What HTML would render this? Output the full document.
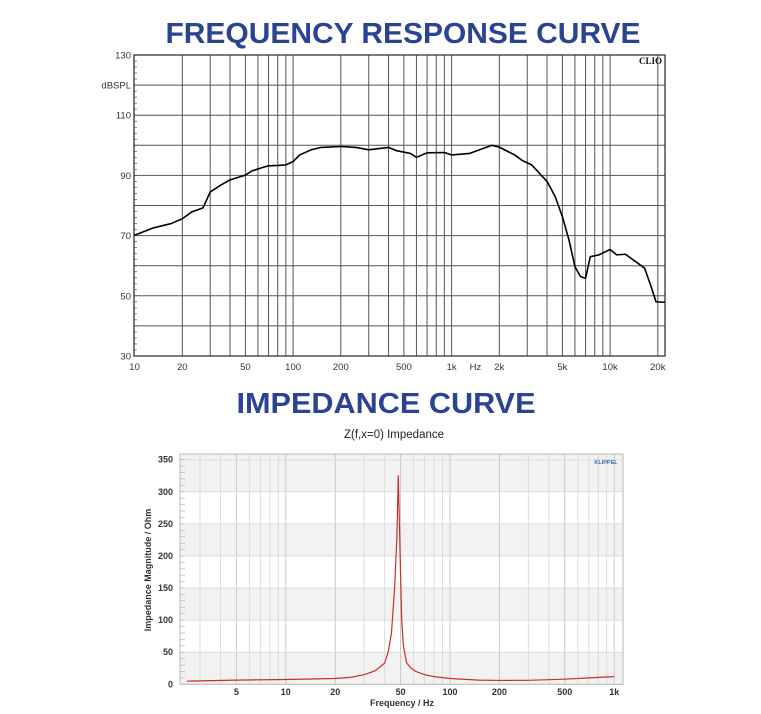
<!DOCTYPE html>
<html><head><meta charset="utf-8"><style>
body{margin:0;background:#fff;width:761px;height:714px;overflow:hidden}
svg{display:block}
.t{font-family:"Liberation Sans",sans-serif;font-weight:bold;fill:#2a4393}
.l{font-family:"Liberation Sans",sans-serif;font-size:9.5px;fill:#333}
.b{font-family:"Liberation Sans",sans-serif;font-size:9px;font-weight:bold;fill:#333}
</style></head><body>
<svg id="s" width="761" height="714" xmlns="http://www.w3.org/2000/svg">
<text class="t" x="403" y="43" font-size="29" text-anchor="middle" textLength="475" lengthAdjust="spacingAndGlyphs">FREQUENCY RESPONSE CURVE</text>
<text class="t" x="386" y="413" font-size="29" text-anchor="middle" textLength="299" lengthAdjust="spacingAndGlyphs">IMPEDANCE CURVE</text>
<g id="top"></g>
<g id="bot"></g>
</svg>
<script>
const frFreq=[10,13,17,20,23,27,30,35,40,50,55,65,70,80,90,100,110,130,150,200,250,300,400,450,550,600,700,900,1000,1300,1800,2000,2500,2800,3200,4000,4500,5000,5500,6000,6500,7000,7500,8500,10000,11000,12500,15000,16500,18000,19500,22000];
const frDb=[70.1,72.5,74,75.6,77.9,79.2,84.5,86.8,88.5,90.1,91.5,92.7,93.2,93.3,93.5,94.6,96.8,98.5,99.3,99.6,99.3,98.5,99.3,98.2,97.3,96,97.5,97.6,96.8,97.3,100,99.4,96.8,94.9,93.5,88,83,76.3,68.6,59.7,56.4,55.8,63,63.6,65.4,63.6,63.8,60.8,59.2,53.6,48,47.9];
const frYTicks=[130,110,90,70,50,30];
const frXTicks=[[10,'10'],[20,'20'],[50,'50'],[100,'100'],[200,'200'],[500,'500'],[1000,'1k'],[2000,'2k'],[5000,'5k'],[10000,'10k'],[20000,'20k']];
const zFreq=[2.5,3,5,10,20,25,30,35,40,42,44,46,47.5,48.4,49.2,50,50.8,52,54.5,58,62,70,80,100,150,200,300,500,700,1000];
const zOhm=[5,5.3,6.5,7.5,9,11,15,21,33,50,80,150,230,325,250,170,100,60,33,25,20,15,12,9,6.5,6,6.2,8,10,12];
const zYTicks=[0,50,100,150,200,250,300,350];
const zXTicks=[[5,'5'],[10,'10'],[20,'20'],[50,'50'],[100,'100'],[200,'200'],[500,'500'],[1000,'1k']];
const NS='http://www.w3.org/2000/svg';
function mk(p,tag,a,txt){const e=document.createElementNS(NS,tag);for(const k in a)e.setAttribute(k,a[k]);if(txt!==undefined)e.textContent=txt;p.appendChild(e);return e;}
const T=document.getElementById('top');
const tx=f=>134.6+(Math.log10(f)-1)*158.5;
const ty=d=>55+(130-d)*3.01;
let g=mk(T,'g',{});


for(let dec=10;dec<=10000;dec*=10)for(let m=1;m<=9;m++){const f=dec*m;if(f<=10||f>20000)continue;mk(g,'line',{x1:tx(f),x2:tx(f),y1:55,y2:356,stroke:'#555','stroke-width':1});}
for(let d=40;d<=120;d+=10)mk(g,'line',{x1:134,x2:665,y1:ty(d),y2:ty(d),stroke:'#555','stroke-width':1});
for(let d=30;d<=130;d+=2)mk(g,'line',{x1:134,x2:137,y1:ty(d),y2:ty(d),stroke:'#555','stroke-width':0.7});
mk(T,'rect',{x:134,y:55,width:531,height:301,fill:'none',stroke:'#333','stroke-width':1.3});
frYTicks.forEach(d=>{const t=mk(T,'text',{class:'l',x:131,y:ty(d)+3.5,'text-anchor':'end'},String(d));});
let yl=mk(T,'text',{class:'l',x:131,y:ty(120)+3.5,'text-anchor':'end'},'dBSPL');

frXTicks.forEach(([f,s])=>{const t=mk(T,'text',{class:'l',x:tx(f),y:370,'text-anchor':'middle'},s);});
let hz=mk(T,'text',{class:'l',x:tx(1414),y:370,'text-anchor':'middle'},'Hz');

let cl=mk(T,'text',{x:662,y:64,'text-anchor':'end','font-family':'Liberation Serif,serif','font-size':'9','font-weight':'bold',fill:'#111'},'CLIO');

let p1=mk(T,'polyline',{points:frFreq.map((f,i)=>tx(Math.min(f,21000))+','+ty(frDb[i])).join(' ')+' 665,'+ty(47.9),fill:'none',stroke:'#000','stroke-width':1.6,'stroke-linejoin':'round'});

const B=document.getElementById('bot');
const bx=f=>450+(Math.log10(f)-2)*164.2;
const by=v=>684.3-v*(224.6/350);
mk(B,'rect',{x:180,y:454,width:443,height:231,fill:'#fff'});
for(let v=0;v<350;v+=100){const r=mk(B,'rect',{x:180,y:by(v+50),width:443,height:by(v)-by(v+50),fill:'#f2f2f2'});}
mk(B,'rect',{x:180,y:454,width:443,height:by(350)-454,fill:'#f2f2f2'});
for(let dec=1;dec<=1000;dec*=10)for(let m=1;m<=9;m++){const f=dec*m;if(f<3||f>1000)continue;const main=(m==1||m==2||m==5);mk(B,'line',{x1:bx(f),x2:bx(f),y1:454,y2:684.3,stroke:main?'#c8c8c8':'#dcdcdc','stroke-width':1});}
zYTicks.forEach(v=>{mk(B,'line',{x1:180,x2:623,y1:by(v),y2:by(v),stroke:'#ddd','stroke-width':1});const t=mk(B,'text',{class:'b',x:173,y:by(v)+3,'text-anchor':'end'},String(v));});
for(let v=0;v<=350;v+=10)mk(B,'line',{x1:180,x2:185,y1:by(v),y2:by(v),stroke:'#aaa','stroke-width':0.6});
mk(B,'rect',{x:180,y:454,width:443,height:230.3,fill:'none',stroke:'#bbb','stroke-width':1});
zXTicks.forEach(([f,s])=>{const t=mk(B,'text',{class:'b',x:bx(f),y:695,'text-anchor':'middle'},s);});
let xt=mk(B,'text',{class:'b',x:402,y:706,'text-anchor':'middle'},'Frequency / Hz');

let yt=mk(B,'text',{class:'b',x:0,y:0,'text-anchor':'middle','font-size':'8',transform:'translate(151,570) rotate(-90)'},'Impedance Magnitude / Ohm');

let zt=mk(B,'text',{x:394,y:438,'text-anchor':'middle','font-family':'Liberation Sans,sans-serif','font-size':'11.5',fill:'#222'},'Z(f,x=0) Impedance');

let kl=mk(B,'text',{x:606,y:464,'text-anchor':'middle','font-family':'Liberation Sans,sans-serif','font-size':'5.5','font-weight':'bold',fill:'#3a6ea8'},'KLIPPEL');

let p2=mk(B,'polyline',{points:zFreq.map((f,i)=>bx(f)+','+by(zOhm[i])).join(' '),fill:'none',stroke:'#c83030','stroke-width':1.2,'stroke-linejoin':'round'});

</script>
</body></html>
